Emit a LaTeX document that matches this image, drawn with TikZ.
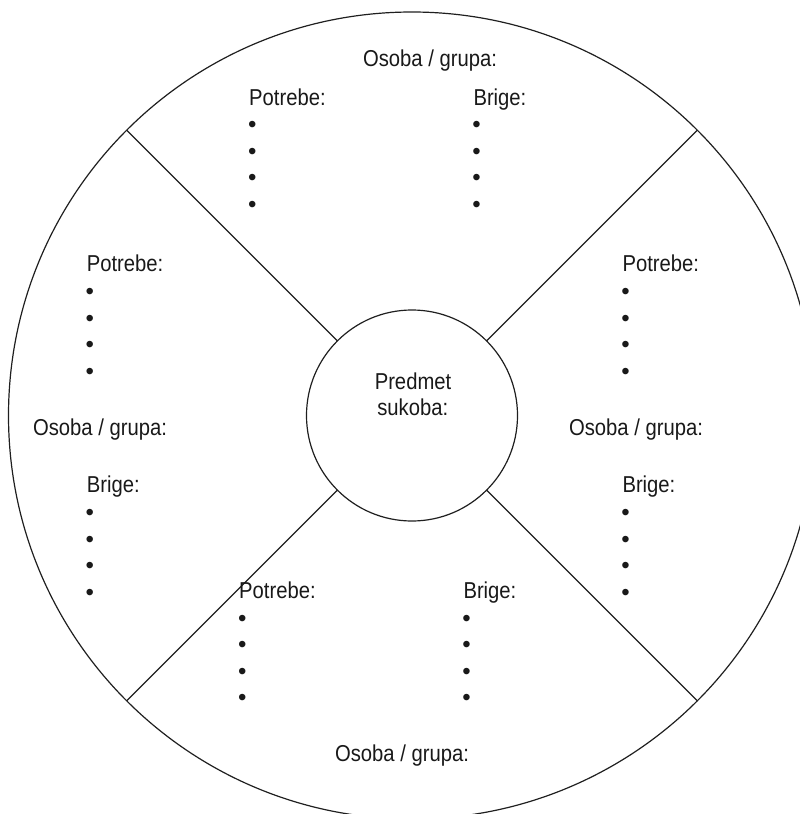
\documentclass[tikz,border=0pt]{standalone}
\usepackage{fontspec}
\setmainfont{Liberation Sans}[FakeStretch=0.88]
\newfontfamily\bulfont{Liberation Sans}
\newcommand\mylist[4]{%
  \node[head] (#1) at (#2,#3) {#4};
  \foreach \k in {0,...,3}
    \node[bul] (#1-\k) at ({#2+3},{#3+19.5+26.5*\k+2.7}) {•};
}
\begin{document}
\begin{tikzpicture}[x=1pt,y=-1pt,
  ring/.style={draw=black!88, line width=1.2pt, circle, inner sep=0pt, outer sep=0pt},
  lbl/.style={inner sep=0pt, outer sep=0pt, anchor=base, font=\fontsize{23}{26}\selectfont, text=black!90},
  head/.style={lbl, anchor=base west},
  bul/.style={lbl, anchor=center, font=\bulfont\fontsize{24}{26}\selectfont},
  spoke/.style={draw=black!88, line width=1.2pt}]
\useasboundingbox (0,0) rectangle (800,814);
\clip (0,0) rectangle (800,814);
\node[ring, minimum size=807pt] (outer) at (412,415.5) {};
\node[ring, minimum size=211pt] (inner) at (412,415.5) {};
\foreach \a in {45,135,225,315}
  \draw[spoke] (inner.\a) -- (outer.\a);
% centre
\node[lbl] (pred) at (413,389.3) {Predmet};
\node[lbl] (suk) at (412.7,415) {sukoba:};
% person / group labels
\node[lbl] (osT) at (430,66) {Osoba / grupa:};
\node[lbl] (osL) at (100,435) {Osoba / grupa:};
\node[lbl] (osR) at (636,435) {Osoba / grupa:};
\node[lbl] (osB) at (402,761.7) {Osoba / grupa:};
% lists
\mylist{tP}{249.2}{105}{Potrebe:}
\mylist{tB}{473.5}{105}{Brige:}
\mylist{lP}{86.8}{271.7}{Potrebe:}
\mylist{lB}{86.8}{492.7}{Brige:}
\mylist{rP}{622.5}{271.7}{Potrebe:}
\mylist{rB}{622.5}{492.7}{Brige:}
\mylist{bP}{239.2}{598.3}{Potrebe:}
\mylist{bB}{463.5}{598.3}{Brige:}
\end{tikzpicture}
\end{document}
